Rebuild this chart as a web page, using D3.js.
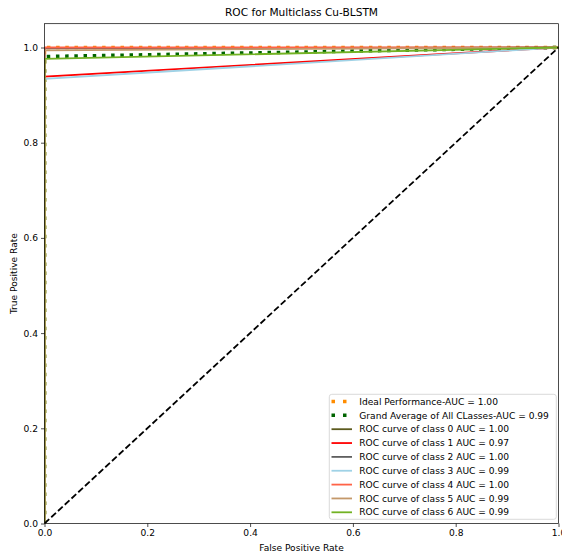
<!DOCTYPE html>
<html>
<head>
<meta charset="utf-8">
<script src="https://cdn.jsdelivr.net/npm/d3@7"></script>
<style>
  body { margin: 0; background: #fff; }
  text { font-family: "DejaVu Sans", sans-serif; fill: #000; }
</style>
</head>
<body>
<svg id="chart" width="562" height="554"></svg>
<script>
// values
const xTicks = [0, 0.2, 0.4, 0.6, 0.8, 1.0]
const yTicks = [0, 0.2, 0.4, 0.6, 0.8, 1.0]

// each ROC is (fpr, tpr) points
const idealCurve = [[0, 0], [0, 1], [1, 1]]
const averageCurve = [[0, 0], [0, 0.981], [1, 1]]
const classNames = ['0', '1', '2', '3', '4', '5', '6']
const classAuc = ['1.00', '0.97', '1.00', '0.99', '1.00', '0.99', '0.99']
const classStartTpr = [0.999, 0.939, 0.998, 0.934, 1.0, 0.994, 0.976]
const classColors = ['#5c5a1e', '#ff0000', '#5f5f5f', '#9fd2e6', '#ff6347', '#c4986a', '#72b223']
const diagonal = [[0, 0], [1, 1]]

const margin = { top: 23.7, right: 3.5, bottom: 30.5, left: 44.5 }
const width = 562 - margin.left - margin.right
const height = 554 - margin.top - margin.bottom
const fontSize = 9.1

const xScale = d3.scaleLinear().domain([0, 1]).range([0, width])
const yScale = d3.scaleLinear().domain([0, 1.05]).range([height, 0])

const svg = d3.select('#chart')
const g = svg.append('g')
  .attr('transform', `translate(${margin.left}, ${margin.top})`)

svg.append('defs').append('clipPath').attr('id', 'clip')
  .append('rect').attr('width', width).attr('height', height)

const line = d3.line()
  .x(d => xScale(d[0]))
  .y(d => yScale(d[1]))

const plot = g.append('g').attr('clip-path', 'url(#clip)')

plot.append('path')
  .datum(idealCurve)
  .attr('d', line)
  .attr('fill', 'none')
  .attr('stroke', '#ff8c00')
  .attr('stroke-width', 3.5)
  .attr('stroke-dasharray', '3.5,5.7')

plot.append('path')
  .datum(averageCurve)
  .attr('d', line)
  .attr('fill', 'none')
  .attr('stroke', '#006400')
  .attr('stroke-width', 3.5)
  .attr('stroke-dasharray', '3.5,5.7')

classNames.forEach((c, i) => {
  plot.append('path')
    .datum([[0, 0], [0, classStartTpr[i]], [1, 1]])
    .attr('d', line)
    .attr('fill', 'none')
    .attr('stroke', classColors[i])
    .attr('stroke-width', 1.8)
})

plot.append('path')
  .datum(diagonal)
  .attr('d', line)
  .attr('fill', 'none')
  .attr('stroke', '#000')
  .attr('stroke-width', 1.8)
  .attr('stroke-dasharray', '6.4,2.8')

// axes
const xAxis = g.append('g')
  .attr('transform', `translate(0, ${height})`)
  .call(d3.axisBottom(xScale).tickValues(xTicks).tickFormat(d3.format('.1f')).tickSize(3.5).tickPadding(3))
const yAxis = g.append('g')
  .call(d3.axisLeft(yScale).tickValues(yTicks).tickFormat(d3.format('.1f')).tickSize(3.5).tickPadding(3))

;[xAxis, yAxis].forEach(a => {
  a.select('.domain').remove()
  a.selectAll('line').attr('stroke', '#000').attr('stroke-width', 0.7)
  a.selectAll('text').attr('font-size', fontSize).attr('font-family', '"DejaVu Sans", sans-serif')
})

g.append('rect')
  .attr('width', width)
  .attr('height', height)
  .attr('fill', 'none')
  .attr('stroke', '#000')
  .attr('stroke-width', 0.7)

// labels
svg.append('text')
  .attr('x', margin.left + width / 2)
  .attr('y', 16)
  .attr('text-anchor', 'middle')
  .attr('font-size', 10.6)
  .text('ROC for Multiclass Cu-BLSTM')

svg.append('text')
  .attr('x', margin.left + width / 2)
  .attr('y', 551)
  .attr('text-anchor', 'middle')
  .attr('font-size', fontSize)
  .text('False Positive Rate')

svg.append('text')
  .attr('transform', `translate(17, ${margin.top + height / 2}) rotate(-90)`)
  .attr('text-anchor', 'middle')
  .attr('font-size', fontSize)
  .text('True Positive Rate')

// legend
const legendItems = [
  { label: 'Ideal Performance-AUC = 1.00', color: '#ff8c00', dotted: true },
  { label: 'Grand Average of All CLasses-AUC = 0.99', color: '#006400', dotted: true }
].concat(classNames.map((c, i) => ({
  label: `ROC curve of class ${c} AUC = ${classAuc[i]}`,
  color: classColors[i],
  dotted: false
})))

const legend = svg.append('g').attr('transform', 'translate(329.3, 394.3)')
legend.append('rect')
  .attr('width', 227)
  .attr('height', 125)
  .attr('rx', 2.5)
  .attr('fill', '#fff')
  .attr('fill-opacity', 0.8)
  .attr('stroke', '#d0d0d0')
  .attr('stroke-width', 0.8)

legendItems.forEach((d, i) => {
  const y = 7.2 + i * 13.85
  legend.append('line')
    .attr('x1', 2.2).attr('x2', 22.7)
    .attr('y1', y).attr('y2', y)
    .attr('stroke', d.color)
    .attr('stroke-width', d.dotted ? 3.5 : 1.8)
    .attr('stroke-dasharray', d.dotted ? '3.5,8' : null)
  legend.append('text')
    .attr('x', 30)
    .attr('y', y)
    .attr('dy', '0.35em')
    .attr('font-size', fontSize)
    .text(d.label)
})
</script>
</body>
</html>
